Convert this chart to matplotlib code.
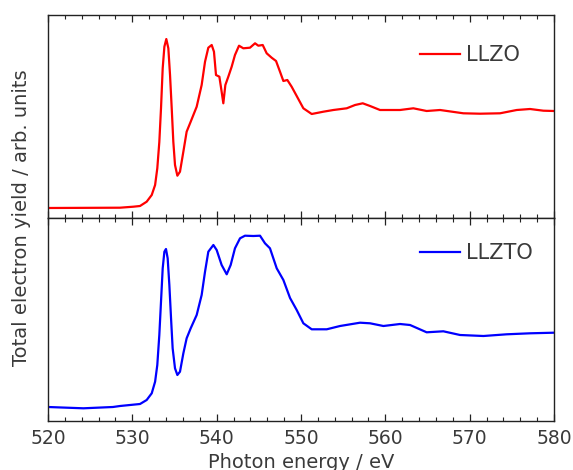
import matplotlib.pyplot as plt
from matplotlib.ticker import MultipleLocator

# LLZO (top panel)
llzo_e = [520, 528.54, 530.12, 530.91, 531.7, 532.3, 532.7, 532.96, 533.2, 533.4,
          533.6, 533.8, 534.03, 534.27, 534.47, 534.67, 534.86, 535.06, 535.34, 535.65,
          536.05, 536.44, 536.92, 537.63, 538.22, 538.62, 539.01, 539.41, 539.68, 539.92,
          540.32, 540.59, 540.79, 541.03, 541.38, 541.78, 542.17, 542.65, 543.16, 543.95,
          544.55, 544.94, 545.46, 545.93, 546.52, 547.04, 547.51, 547.91, 548.38, 548.89,
          549.49, 550.28, 551.27, 552.65, 553.84, 555.42, 556.41, 557.32, 558.19, 559.37,
          561.74, 563.32, 564.9, 566.49, 569.25, 571.23, 573.6, 575.58, 577.16, 578.74,
          580]
llzo_y = [10, 10.3, 11.3, 12, 16.3, 23, 33, 49.7, 76, 109.7,
          149.7, 171.3, 179, 169.7, 143, 109.7, 76.3, 53, 42.3, 46.3,
          66.3, 86.3, 96.3, 111.3, 133, 156.3, 170.3, 173, 166.3, 143,
          141.3, 126.3, 114.7, 133, 141.3, 151.3, 163, 172.3, 169.7, 170.3,
          174.7, 172.3, 173, 164.7, 160.3, 157, 146.3, 137, 138, 131.3,
          122, 109.7, 104, 106.3, 108, 109.7, 113, 114.7, 112, 108,
          108, 109.7, 107, 108, 104.7, 104.3, 104.7, 108, 109, 107.3,
          107]

# LLZTO (bottom panel)
llzto_e = [520, 524.2, 527.7, 528.54, 530.91, 531.7, 532.3, 532.7, 532.96, 533.2,
           533.4, 533.6, 533.8, 533.99, 534.19, 534.39, 534.59, 534.78, 535.06, 535.34,
           535.65, 536.05, 536.44, 536.92, 537.63, 538.22, 538.62, 539.01, 539.61, 540.0,
           540.59, 541.19, 541.66, 542.17, 542.77, 543.36, 544.35, 545.14, 545.73, 546.32,
           547.12, 547.91, 548.7, 549.49, 550.28, 551.27, 553.05, 554.63, 557.0, 558.19,
           559.77, 561.74, 562.93, 564.9, 566.88, 568.86, 571.63, 574.39, 577.16, 580]
llzto_y = [14, 12.7, 14, 15, 17, 21, 27.7, 39.3, 56, 86,
           119.3, 152.7, 169.3, 172, 162.7, 136, 102.7, 72.7, 52.7, 46,
           49.3, 67.7, 82.7, 92.7, 106, 126, 149.3, 169.3, 176, 171,
           156, 146.7, 156, 172.7, 182.7, 185.3, 185, 185.3, 177.7, 172.7,
           152.7, 141, 123, 111, 97.7, 91.7, 91.7, 95, 98.3, 97.7,
           95, 97, 96, 88.7, 89.7, 86, 85, 86.7, 87.7, 88.3]

plt.rcParams['font.family'] = 'DejaVu Sans'
txt = '#3a3a3a'

fig = plt.figure(figsize=(5.73, 4.7), dpi=100)
ax1 = fig.add_axes([48/573, 1-218/470, 506/573, 203/470])
ax2 = fig.add_axes([48/573, 1-421/470, 506/573, 203/470], sharex=ax1)

panels = [(ax1, llzo_e, llzo_y, '#ff0000', 'LLZO', 0.803),
          (ax2, llzto_e, llzto_y, '#0000ff', 'LLZTO', 0.828)]
for ax, e, y, col, lab, ly in panels:
    ax.plot(e, y, color=col, lw=1.6, label=lab, solid_joinstyle='round')
    ax.set_xlim(520, 580)
    ax.set_ylim(0, 203)
    ax.set_yticks([])
    ax.xaxis.set_major_locator(MultipleLocator(10))
    ax.xaxis.set_minor_locator(MultipleLocator(2))
    ax.tick_params(axis='x', which='both', direction='in', top=True, bottom=True,
                   colors='#222222', labelcolor=txt, labelsize=13.5, pad=6)
    ax.tick_params(axis='x', which='major', length=5, width=0.9)
    ax.tick_params(axis='x', which='minor', length=3, width=0.8)
    for s in ax.spines.values():
        s.set_color('#222222')
        s.set_linewidth(1.0)
    leg = ax.legend(loc='center left', frameon=False, fontsize=15,
                    handlelength=1.9, handletextpad=0.3, borderpad=0,
                    borderaxespad=0, bbox_to_anchor=((420-48)/506, ly))
    for t in leg.get_texts():
        t.set_color(txt)

ax1.tick_params(axis='x', labelbottom=False)
ax2.set_xlabel('Photon energy / eV', fontsize=14, color=txt, labelpad=3)
fig.text(22/573, 1-218/470, 'Total electron yield / arb. units', rotation=90,
         ha='center', va='center', fontsize=14, color=txt)

fig.savefig('out.png', dpi=100)
